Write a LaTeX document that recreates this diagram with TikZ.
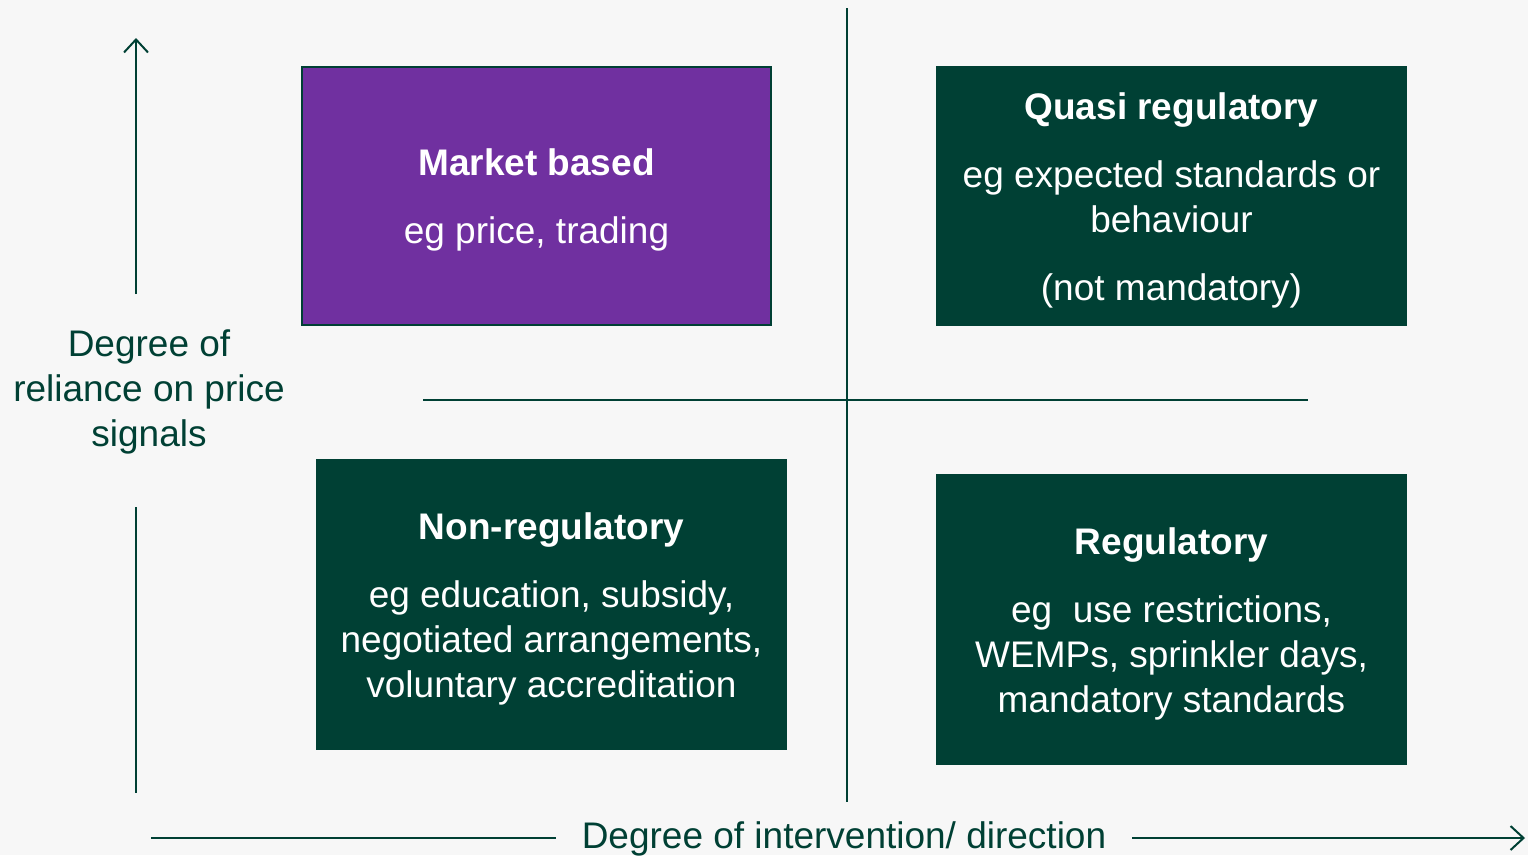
\documentclass[tikz,border=0pt]{standalone}
\usepackage{fontspec}
\setmainfont{Liberation Sans}
\usetikzlibrary{arrows.meta}

\definecolor{darkgreen}{RGB}{0,64,52}
\definecolor{marketpurple}{RGB}{112,48,160}
\definecolor{paper}{RGB}{247,247,247}

\newcommand\quadtitle[1]{\rule{0pt}{35pt}\textbf{#1}}

\begin{document}
\begin{tikzpicture}[x=1pt,y=-1pt,
  quad/.style={draw=darkgreen, fill=darkgreen, line width=2pt, text=white,
    align=center, inner sep=0pt, minimum width=469pt,
    font=\fontsize{37}{45}\selectfont},
  axisline/.style={darkgreen, line width=2pt},
  axisarrow/.style={-{Straight Barb[length=13pt,width=24pt,line width=2pt]}},
  axislabel/.style={text=darkgreen, align=center, inner sep=0pt,
    font=\fontsize{37}{45}\selectfont}]

\fill[paper] (0,0) rectangle (1528,855);
\useasboundingbox (0,0) rectangle (1528,855);

% quadrant lines
\coordinate(vtop) at (847,8);
\coordinate(vbot) at (847,802);
\coordinate(hleft) at (423,400);
\coordinate(hright) at (1308,400);
\draw[axisline] (vtop) -- (vbot);
\draw[axisline] (hleft) -- (hright);

% boxes
\node(market)[quad, fill=marketpurple, minimum height=258pt] at (536.5,196)
  {\quadtitle{Market based}\\[23pt]eg price, trading};
\node(quasi)[quad, minimum height=258pt] at (1171.5,196)
  {\quadtitle{Quasi regulatory}\\[23pt]eg expected standards or\\behaviour\\[23pt](not mandatory)};
\node(nonreg)[quad, minimum height=289pt] at (551.5,604.5)
  {\quadtitle{Non-regulatory}\\[23pt]eg education, subsidy,\\negotiated arrangements,\\voluntary accreditation};
\node(reg)[quad, minimum height=289pt] at (1171.5,619.5)
  {\quadtitle{Regulatory}\\[23pt]eg\ \ use restrictions,\\WEMPs, sprinkler days,\\mandatory standards};

% y axis
\node(ylabel)[axislabel] at (149,392) {Degree of\\reliance on price\\signals};
\coordinate(ytop) at (136,38);
\coordinate(yupper) at (136,294);
\coordinate(ylower) at (136,507);
\coordinate(ybot) at (136,793);
\draw[axisline, axisarrow] (yupper) -- (ytop);
\draw[axisline] (ylower) -- (ybot);

% x axis
\node(xlabel)[axislabel, inner xsep=26pt] at (844,839) {Degree of intervention/ direction};
\coordinate(xleft) at (151,838);
\coordinate(xright) at (1525,838);
\draw[axisline] (xleft) -- (xleft -| xlabel.west);
\draw[axisline, axisarrow] (xright -| xlabel.east) -- (xright);

\end{tikzpicture}
\end{document}
